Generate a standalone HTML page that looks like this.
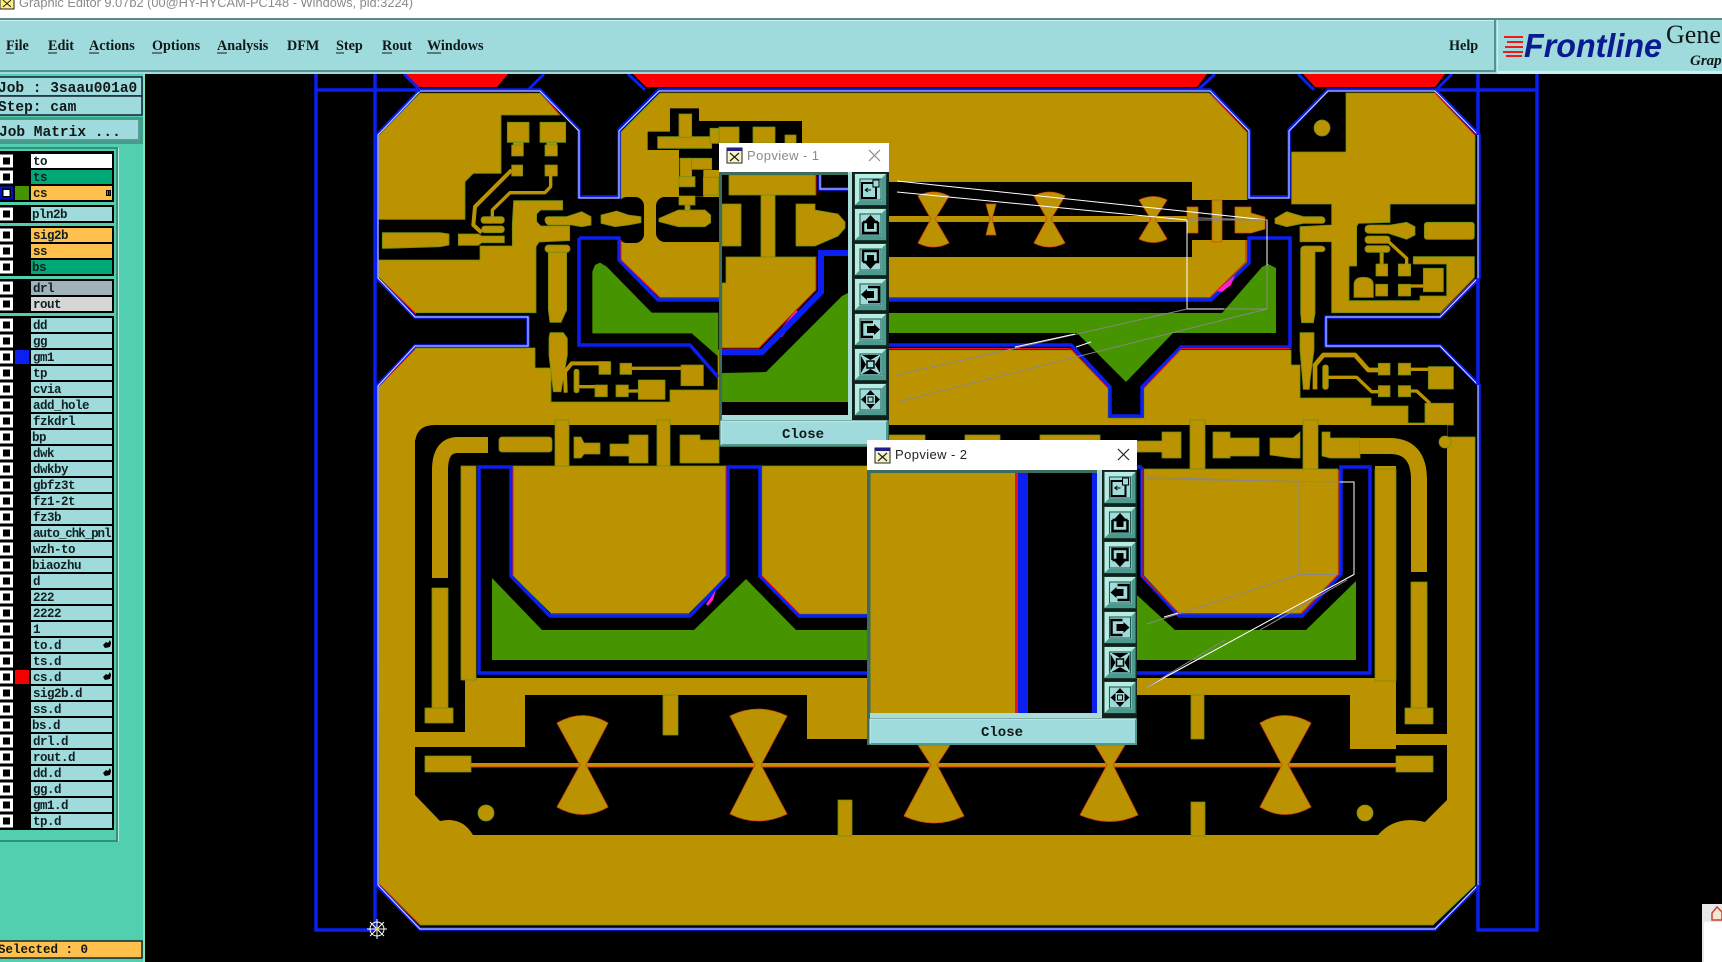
<!DOCTYPE html>
<html><head><meta charset="utf-8"><title>Graphic Editor</title>
<style>
html,body{margin:0;padding:0;background:#000;width:1722px;height:962px;overflow:hidden}
svg{display:block}
.g{fill:#bb9300;stroke:#6f8f10;stroke-width:.8;vector-effect:non-scaling-stroke}
.g *{vector-effect:non-scaling-stroke}
.k{fill:#000}
.gn{fill:#459400}
.tr{fill:none;stroke:#bb9300;stroke-linejoin:round}
.bl{fill:none;stroke:#0a1ff0;stroke-width:3.5;stroke-linejoin:miter}
.rd{fill:none;stroke:#f01010;stroke-width:1}
.m{font:bold 14.2px "Liberation Serif",serif;fill:#101818}
.u{stroke:#101818;stroke-width:1}
.l{font:bold 12.5px "Liberation Mono",monospace;fill:#102020;letter-spacing:-.5px}
.j{font:bold 14.5px "Liberation Mono",monospace;fill:#101818}
.cl{font:bold 14px "Liberation Mono",monospace;fill:#101818;text-anchor:middle}
.w{fill:none;stroke:#fff;stroke-width:1}
.y{fill:none;stroke:#888;stroke-width:1}
</style></head><body>
<svg xmlns="http://www.w3.org/2000/svg" width="1722" height="962" viewBox="0 0 1722 962">
<defs>
<g id="r"><rect x="0" y="-6.5" width="13" height="13" fill="#fff"/><rect x="3" y="-3.5" width="7" height="7" fill="#000"/><rect x="31" y="-7" width="81" height="14" fill="#9fdbdc"/></g>
<g id="h"><path d="M0,4 L3,1 L5,2 L7,-1 L8,2 L7,6 L2,7Z" fill="#000"/></g>
<g id="b"><rect width="33" height="33" fill="#17382e"/><rect x="1" y="1" width="31" height="31" fill="#b8ece0"/><path d="M32,1V32H1L5,28H28V5Z" fill="#4c9a8e"/><rect x="5" y="5" width="23" height="23" fill="#9fdbd8"/><rect x="6" y="6" width="21" height="21" fill="none" stroke="#1f5a50" stroke-width="1"/></g>
<g id="i1"><use href="#b"/><rect x="8" y="10" width="14" height="15" fill="none" stroke="#000" stroke-width="2"/><rect x="19" y="7" width="6" height="7" fill="#9fdbdc" stroke="#000"/><path d="M11,17h6m-6,0l3,-2m-3,2l3,2" stroke="#000" fill="none"/></g>
<g id="i2"><use href="#b"/><path d="M9,14h4M20,14h4M9,14V25H24V14" fill="none" stroke="#000" stroke-width="2.500"/><path d="M16.500,7L22,13H20V21H13V13H11Z" fill="#000"/></g>
<g id="i3"><use href="#b"/><path d="M9,19V8H24V19H20M13,19H9" fill="none" stroke="#000" stroke-width="2.500"/><path d="M16.500,26L22,20H20V12H13V20H11Z" fill="#000"/></g>
<g id="i4"><use href="#b"/><path d="M14,9H25V24H14" fill="none" stroke="#000" stroke-width="2.500"/><path d="M7,16.500L13,11V13H20V20H13V22Z" fill="#000"/></g>
<g id="i5"><use href="#b"/><path d="M19,9H8V24H19" fill="none" stroke="#000" stroke-width="2.500"/><path d="M26,16.500L20,11V13H13V20H20V22Z" fill="#000"/></g>
<g id="i6"><use href="#b"/><rect x="13" y="13" width="7" height="7" fill="none" stroke="#000" stroke-width="1.500"/><path d="M8,7H25L16.500,12ZM8,26H25L16.500,21ZM7,8V25L12,16.500ZM26,8V25L21,16.500Z" fill="#000"/></g>
<g id="i7"><use href="#b"/><rect x="14" y="14" width="5" height="5" fill="none" stroke="#000" stroke-width="1"/><path d="M16.500,7L21,12H12ZM16.500,26L21,21H12ZM7,16.500L12,12V21ZM26,16.500L21,12V21Z" fill="#000"/></g>
</defs>

<rect width="1722" height="962" fill="#000"/>

<!-- PCB top red bands -->
<path d="M404,74H508L497,87H418Z" fill="#fb0000"/>
<path d="M633,74H1207L1197,87H646Z" fill="#fb0000"/>
<path d="M1303,74H1445L1435,87H1315Z" fill="#fb0000"/>
<path d="M528,90L544,74M628,74L645,90M1198,90L1215,74M1298,74L1314,90M1436,90L1452,74M404,74L420,90" stroke="#0a1ff0" stroke-width="3" fill="none"/>

<!-- gold boards -->
<polygon class="g" points="660,93 1209,93 1247,132 1247,262 1210,298 660,298 621,260 621,132"/>
<polygon class="k" points="885,182 1192,182 1192,200 1249,200 1249,240 1192,240 1192,257 885,257"/>
<rect class="k" x="618" y="197" width="26" height="46" rx="9"/>
<rect class="k" x="656" y="197" width="100" height="45" rx="9"/>
<rect class="k" x="697" y="121" width="105" height="40"/>

<polygon class="g" points="378,387 415,348 535,348 535,368 551,368 551,402 670,402 670,390 718,390 718,350 1071,350 1108,388 1108,418 1144,418 1144,388 1181,350 1291,350 1291,365 1300,365 1300,398 1371,398 1371,406 1408,406 1408,423 1447,423 1447,437 1475,437 1475,885 1433,925 420,925 379,885"/>

<!-- Upper-left (crop coordinates) -->
<g transform="translate(375,90) scale(.33333)">
<polygon class="g" points="135,10 495,10 555,75 378,75 378,250 295,250 270,275 270,388 10,388 10,135"/>
<polygon class="g" points="10,510 315,510 315,468 412,468 412,400 416,332 563,332 563,360 497,360 485,372 485,395 497,408 584,408 584,452 492,456 483,470 483,668 120,668 10,560"/>
<g class="g">
<polygon points="22,428 195,428 222,432 222,465 195,470 40,475 22,475"/>
<polygon points="250,432 310,432 320,438 388,438 388,458 320,458 310,466 250,466"/>
<rect x="318" y="380" width="70" height="20" rx="9"/><rect x="320" y="408" width="68" height="20" rx="9"/>
<rect x="410" y="225" width="33" height="33"/><rect x="510" y="225" width="37" height="33"/>
<rect x="397" y="97" width="65" height="60"/><rect x="415" y="157" width="30" height="10"/><rect x="410" y="165" width="35" height="33"/>
<rect x="495" y="97" width="77" height="60"/><rect x="515" y="157" width="30" height="10"/><rect x="510" y="165" width="37" height="33"/>
<path d="M510,390Q510,380 520,380H575L620,365L648,380V405L620,410L590,405H520Q510,400 510,390Z"/>
<polygon points="678,375 725,363 760,375 798,380 798,398 760,405 720,410 678,400"/>
<polygon points="852,385 910,360 990,360 1007,375 1007,398 990,410 910,410 852,395"/>
<rect x="510" y="465" width="75" height="22" rx="10"/>
<polygon points="520,487 575,487 575,660 558,697 525,697 520,660"/>
<polygon points="525,728 565,728 577,745 577,795 558,905 535,905 522,795 522,745"/>
<rect x="597" y="838" width="15" height="70" rx="6"/>
<rect x="672" y="815" width="35" height="38"/><rect x="735" y="820" width="35" height="33"/>
<rect x="918" y="825" width="67" height="62"/><rect x="660" y="885" width="37" height="35"/>
<rect x="723" y="885" width="37" height="35"/><rect x="790" y="870" width="80" height="58"/>
</g>
<path class="tr" stroke-width="12" d="M410,240L300,350L295,405L320,428"/>
<path class="tr" stroke-width="10" d="M527,255V290L510,308H405L352,360V380"/>
<path class="tr" stroke-width="12" d="M700,820H590L570,845L572,908"/>
<path class="tr" stroke-width="10" d="M770,835H918M612,890H660M760,903H790"/>
<!-- cluster -->
<polygon class="k" points="885,55 972,55 972,95 1050,95 1050,240 985,240 985,320 912,320 912,180 818,180 818,125 885,125"/>
<g class="g">
<rect x="848" y="140" width="162" height="35"/><rect x="912" y="72" width="38" height="70"/><rect x="1005" y="115" width="45" height="45"/>
<rect x="915" y="205" width="95" height="33"/><rect x="915" y="205" width="35" height="85"/><rect x="912" y="260" width="48" height="30"/>
<rect x="985" y="262" width="45" height="53"/>
<rect x="912" y="318" width="48" height="27"/><rect x="930" y="345" width="15" height="17"/>
</g>
<polygon class="gn" points="652,545 660,525 675,518 695,530 830,668 1030,668 1030,800 950,730 652,730"/>
</g>
<rect class="g" x="719" y="127" width="20" height="16"/><rect class="g" x="753" y="127" width="22" height="16"/><rect class="g" x="785" y="135" width="11" height="8"/>

<!-- Upper-right -->
<g transform="translate(1180,190) scale(.33333)">
<polygon class="g" points="335,-114 335,0 335,42 455,42 455,105 360,110 360,155 455,155 455,368 780,368 883,262 883,200 700,200 700,222 800,222 800,318 720,318 720,332 507,332 507,228 530,228 530,110 535,100 630,97 630,42 885,42 885,-165 765,-291 498,-291 498,-114"/>
<g class="g">
<path d="M555,118Q555,105 570,105H630L680,97L705,110V135L680,148L625,130H570Q555,130 555,118Z"/>
<rect x="733" y="97" width="150" height="51" rx="8"/>
<rect x="555" y="138" width="75" height="22" rx="10"/><rect x="555" y="167" width="75" height="20" rx="9"/>
<rect x="600" y="187" width="10" height="35"/><rect x="588" y="222" width="35" height="36"/><rect x="655" y="222" width="37" height="36"/>
<path d="M522,322V285Q522,262 550,262Q580,262 580,285V322Z"/>
<rect x="587" y="283" width="36" height="35"/><rect x="655" y="283" width="37" height="35"/><rect x="730" y="235" width="60" height="70"/>
<path d="M285,85L320,65L370,80H425Q435,82 435,91Q435,100 425,100H370L320,110L285,100Z"/>
<path d="M362,180Q362,168 375,168H425Q435,170 435,177Q435,185 425,185H405V370L400,398H365L362,370Z"/>
<polygon points="360,428 402,428 402,480 390,570 388,598 370,598 360,480"/>
<rect x="428" y="525" width="17" height="73" rx="7"/>
<rect x="595" y="520" width="35" height="35"/><rect x="655" y="520" width="37" height="35"/><rect x="745" y="530" width="75" height="67"/>
<rect x="595" y="587" width="35" height="33"/><rect x="655" y="587" width="37" height="33"/><rect x="735" y="640" width="85" height="65"/>
</g>
<path class="tr" stroke-width="10" d="M620,150L680,205V225M445,562H530L575,605H595M692,538H745M692,603H710L750,640M692,288H730"/>
<path class="tr" stroke-width="14" d="M405,598V525L430,495H525L565,540H595"/>
</g>
<ellipse class="g" cx="1322" cy="128" rx="8" ry="8"/>

<!-- row band and frames -->
<path class="k" d="M415,445Q415,425 435,425H1447V466H415Z"/>
<rect class="k" x="415" y="440" width="46" height="240"/><rect class="k" x="415" y="680" width="50" height="52"/>
<rect class="k" x="1396" y="440" width="51" height="294"/>
<rect class="k" x="476" y="466" width="899" height="212"/>
<path class="k" d="M415,747H525V695H807V739H867V695H1350V749H1396V745H1447V800L1425,822Q1395,815 1378,835H473Q462,816 440,821L415,795Z"/>
<g class="g">
<rect x="555" y="420" width="14" height="50"/><rect x="657" y="420" width="13" height="50"/><rect x="1190" y="420" width="15" height="50"/><rect x="1303" y="420" width="15" height="50"/>
<rect x="499" y="437" width="53" height="15" rx="3"/>
<path d="M574,437H581L584,443H600V454H584L581,458H574Z"/>
<path d="M610,444H629V435H648V463H629V456H610Z"/>
<path d="M680,435H700V440H719V463H680Z"/>
<path d="M889,435H925V441H889ZM965,435H1000V441H965ZM1040,435H1100V441H1040Z"/>
<path d="M1134,441H1162V432H1181V458H1162V452H1134Z"/>
<path d="M1213,432H1230V438H1259V456H1230V458H1213Z"/>
<path d="M1270,438H1293L1300,432V458H1293L1270,455Z"/>
<path d="M1322,432H1330V438H1360V458H1330L1322,456Z"/>
<rect x="432" y="588" width="16" height="120"/><rect x="425" y="708" width="28" height="15"/>
<rect x="461" y="466" width="15" height="214"/><rect x="1375" y="469" width="21" height="212"/>
<rect x="1411" y="582" width="16" height="126"/><rect x="1405" y="708" width="28" height="16"/>
<circle cx="1445" cy="442" r="6"/>
<rect x="663" y="695" width="15" height="40"/><rect x="838" y="800" width="14" height="36"/><rect x="1191" y="695" width="13" height="44"/><rect x="1191" y="802" width="14" height="34"/>
<rect x="425" y="756" width="46" height="16"/><rect x="1396" y="756" width="37" height="16"/>
<ellipse cx="486" cy="813" rx="8" ry="8"/><ellipse cx="1365" cy="813" rx="8" ry="8"/>
<polygon points="513,466 726,466 726,576 688,614 552,614 513,576"/>
<polygon points="762,466 1100,466 1100,576 1062,614 799,614 762,576"/>
<polygon points="1144,469 1338,469 1338,574 1300,614 1180,614 1144,576"/>
</g>
<path class="tr" stroke-width="16" d="M488,445H458Q440,445 440,470V578"/>
<path class="tr" stroke-width="16" d="M1360,446H1390Q1419,446 1419,480V572"/>
<rect x="471" y="763" width="925" height="4" fill="#bb9300"/><line x1="471" y1="767" x2="1396" y2="767" stroke="#f03010" stroke-width="1"/>
<g class="g" style="stroke:#d04a10">
<path d="M557,723Q583,708 608,723L586,765L608,807Q583,822 557,807L580,765Z"/>
<path d="M730,716Q758,702 787,716L761,765L787,814Q758,828 730,814L755,765Z"/>
<path d="M904,816Q934,830 964,816L937,765L950,745H918L931,765Z"/>
<path d="M1080,815Q1110,828 1138,815L1113,765L1125,745H1095L1107,765Z"/>
<path d="M1260,723Q1285,708 1311,723L1288,765L1311,807Q1285,822 1260,807L1282,765Z"/>
</g>
<polygon class="gn" points="492,578 542,630 694,630 746,579 796,630 1085,630 1126,585 1175,630 1306,630 1356,581 1356,660 492,660"/>
<polygon class="gn" points="885,313 1222,313 1262,267 1268,264 1276,268 1276,333 1173,333 1126,382 1077,333 885,333"/>

<!-- center strip in black zone -->
<rect x="885" y="216" width="302" height="6" fill="#bb9300"/>
<g class="g" style="stroke:#d04a10">
<path d="M918,196Q933,188 949,196L935,219L949,243Q933,251 918,243L931,219Z"/>
<path d="M986,204H996L992,219L996,235H986L990,219Z"/>
<path d="M1034,196Q1049,188 1065,196L1051,219L1065,243Q1049,251 1034,243L1047,219Z"/>
<path d="M1139,200Q1153,193 1167,200L1155,219L1167,239Q1153,246 1139,239L1151,219Z"/>
<path d="M1187,207H1198V233H1187Z"/>
<rect x="1212" y="200" width="10" height="42"/>
<path d="M1235,207H1251V213L1265,217V229L1251,233H1235Z"/>
</g>

<!-- blue, red lines -->
<path class="bl" d="M579,238V345H690L718,377M579,238H619V260L658,300H1211L1249,263V238H1290V347H1181L1142,387V416H1110V387L1071,345H885"/>
<path class="bl" d="M1142,467V576L1179,616H1302L1341,574V467H1370V673H479V467H511V576L550,616H690L728,576V467H760V576L799,616H1062L1100,576V467H1142"/>
<path class="rd" d="M621,240V260L660,297.500H1210L1246,262V240M1071,348.500H735M1181,348.500H1290M1108,388L1071,349M1144,388L1181,349M513,467V576M726,467V576M762,576L799,613.500M1142,470V576L1179,613.500H1302L1339,574V470M552,613.500H688M380,279L416,314M380,385L415,349M380,885L420,925M1436,94L1475,135M1475,279L1440,314M1211,94L1247,132M542,94L560,115"/>
<polygon points="1217,291 1235,275 1231,285 1222,292" fill="#ff20d0"/>
<polygon points="706,604 716,590 713,600 708,606" fill="#ff20d0"/>

<path d="M420,90H540L579,130V197H619V130L659,90H1210L1249,130V197H1289V130L1328,90H1435L1479,135V278L1440,317H1326V346H1440L1479,385V885L1435,929H420L377,885V386L415,346H528V317H415L377,278V135Z" fill="none" stroke="#0a1ff0" stroke-width="3.500"/>
<path d="M420,91H540L579,131V198H619V131L659,91H1210L1249,131V198H1289V131L1328,91H1435L1478,135V278L1440,317H1326V346H1440L1478,385V885L1435,929H420L378,885V386L415,346H528V317H415L378,278V135Z" fill="none" stroke="#dfe6f5" stroke-width="1"/>
<path d="M316,74V930H375M316,90H420M375,74V930M1478,74V135M1478,278V385M1478,885V930H1537V74M1436,90H1537" fill="none" stroke="#0a1ff0" stroke-width="3.500"/>

<!-- projection lines -->
<path class="w" d="M897,181L1267,220V309H1187V220L897,192"/>
<path class="y" d="M1187,220H1267M1267,265V309H1224M1187,309L897,375M1267,309L897,402M1165,217L1267,220"/>
<path class="w" d="M1015,347L1075,334M1076,347L1091,342"/>
<path class="y" d="M1146,477L1299,482M1146,479L1340,482H1354M1299,482V574.500H1338M1299,574.500L1147,624M1354,574.500L1147,687"/>
<path class="w" d="M1340,482H1354V574.500L1147,687"/>
<path class="y" d="M1347,580L1260,630M1225,640L1147,687"/>
<path class="w" d="M1164,617L1178,613"/>

<!-- crosshair -->
<g stroke="#fff" stroke-width="1" fill="none"><circle cx="377" cy="929" r="7"/><path d="M367,929H387M377,919V939M370,922L384,936M384,922L370,936"/></g><circle cx="377" cy="929" r="1.500" fill="#ffd040"/>

<!-- small window bottom right -->
<rect x="1702" y="904" width="20" height="58" fill="#e8e8ea"/><rect x="1704" y="922" width="18" height="40" fill="#fff"/>
<path d="M1712,920V913L1717,907L1722,912V920Z" fill="#f2e8d8" stroke="#d04030" stroke-width="1.500"/>

<!-- window title -->
<rect x="0" y="0" width="1722" height="18" fill="#fff"/>
<rect x="0" y="-3" width="14" height="12" fill="#ffef80" stroke="#222"/>
<path d="M3,0L11,7M11,0L3,7" stroke="#222"/>
<text x="19" y="7" textLength="394" lengthAdjust="spacingAndGlyphs" style="font:13px 'Liberation Sans',sans-serif;fill:#8a8a8a">Graphic Editor 9.07b2 (00@HY-HYCAM-PC148 - Windows, pid:3224)</text>

<!-- menu bar -->
<rect x="0" y="18" width="1722" height="56" fill="#9fdbdc"/>
<rect x="0" y="18" width="1722" height="2" fill="#5a8a8a"/><rect x="0" y="20" width="1494" height="1" fill="#c8f0ef"/>
<rect x="0" y="70" width="1495" height="2" fill="#5a8f90"/><rect x="1494" y="20" width="2" height="52" fill="#5a8f90"/><rect x="1497" y="20" width="1" height="54" fill="#c8f0ef"/>
<rect x="1498" y="71" width="224" height="3" fill="#c8f0ef"/>
<text class="m" x="6" y="50">File</text><text class="m" x="48" y="50">Edit</text><text class="m" x="89" y="50">Actions</text><text class="m" x="152" y="50">Options</text><text class="m" x="217" y="50">Analysis</text><text class="m" x="287" y="50">DFM</text><text class="m" x="336" y="50">Step</text><text class="m" x="382" y="50">Rout</text><text class="m" x="427" y="50">Windows</text><text class="m" x="1449" y="50">Help</text>
<path class="u" d="M6,53h8M48,53h9M89,53h10M152,53h10M217,53h10M336,53h8M382,53h10M427,53h14"/>
<path d="M1504,37h19M1507,42h16M1505,47h18M1503,52h20M1506,56h16" stroke="#f01818" stroke-width="2"/>
<text x="1524" y="57" textLength="138" lengthAdjust="spacingAndGlyphs" style="font:italic bold 33px 'Liberation Sans',sans-serif;fill:#0a1a90">Frontline</text>
<text x="1666" y="43" style="font:26px 'Liberation Serif',serif;fill:#101818">Gene</text>
<text x="1690" y="65" style="font:italic bold 15px 'Liberation Serif',serif;fill:#101818">Graphic</text>

<!-- left panel -->
<rect x="0" y="74" width="145" height="888" fill="#52cfae"/><rect x="143.500" y="74" width="1" height="888" fill="#b8f0e0"/>
<rect x="-2" y="77" width="144" height="19" fill="#9fdbdc" stroke="#123" stroke-width="1.500"/>
<rect x="-2" y="96" width="144" height="19" fill="#9fdbdc" stroke="#123" stroke-width="1.500"/>
<rect x="-2" y="117" width="145" height="27" fill="#3f9f87"/><rect x="-2" y="120" width="141" height="20" fill="#9fdbdc"/><path d="M139,120V140H-2" fill="none" stroke="#5a9a9a" stroke-width="2"/>
<text class="j" x="-2" y="92">Job : 3saau001a0</text><text class="j" x="-2" y="111">Step: cam</text><text class="j" x="-1" y="136">Job Matrix ...</text>
<rect x="-2" y="148" width="119" height="693" fill="#52cfae" stroke="#2a7a6a" stroke-width="1.500"/><rect x="118" y="148" width="1" height="693" fill="#b8f0e0"/>
<rect x="0" y="151" width="114" height="51" fill="#000"/><rect x="0" y="205" width="114" height="18" fill="#000"/><rect x="0" y="226" width="114" height="50" fill="#000"/><rect x="0" y="279" width="114" height="34" fill="#000"/><rect x="0" y="316" width="114" height="514" fill="#000"/>
<use href="#r" y="161"/><use href="#r" y="177"/><use href="#r" y="193"/><use href="#r" y="214"/><use href="#r" y="235"/><use href="#r" y="251"/><use href="#r" y="267"/><use href="#r" y="288"/><use href="#r" y="304"/>
<use href="#r" y="325"/><use href="#r" y="341"/><use href="#r" y="357"/><use href="#r" y="373"/><use href="#r" y="389"/><use href="#r" y="405"/><use href="#r" y="421"/><use href="#r" y="437"/><use href="#r" y="453"/><use href="#r" y="469"/><use href="#r" y="485"/><use href="#r" y="501"/><use href="#r" y="517"/><use href="#r" y="533"/><use href="#r" y="549"/><use href="#r" y="565"/><use href="#r" y="581"/><use href="#r" y="597"/><use href="#r" y="613"/><use href="#r" y="629"/><use href="#r" y="645"/><use href="#r" y="661"/><use href="#r" y="677"/><use href="#r" y="693"/><use href="#r" y="709"/><use href="#r" y="725"/><use href="#r" y="741"/><use href="#r" y="757"/><use href="#r" y="773"/><use href="#r" y="789"/><use href="#r" y="805"/><use href="#r" y="821"/>
<rect x="31" y="154" width="81" height="14" fill="#fff"/><rect x="31" y="170" width="81" height="14" fill="#00a878"/><rect x="31" y="186" width="81" height="14" fill="#ffc04d"/><rect x="31" y="228" width="81" height="14" fill="#ffc04d"/><rect x="31" y="244" width="81" height="14" fill="#ffc04d"/><rect x="31" y="260" width="81" height="14" fill="#00a878"/><rect x="31" y="281" width="81" height="14" fill="#a0b2ba"/><rect x="31" y="297" width="81" height="14" fill="#d6d6d6"/>
<rect x="0" y="186.500" width="13" height="13" fill="#0010d0"/><rect x="2" y="188.500" width="9" height="9" fill="#000"/><rect x="3.500" y="190" width="6" height="6" fill="#fff"/>
<rect x="15" y="186" width="14" height="14" fill="#459400"/><rect x="15" y="350" width="14" height="14" fill="#0a1ff0"/><rect x="15" y="670" width="14" height="14" fill="#f50000"/>
<rect x="106" y="190" width="5" height="6" fill="#000"/><path d="M107,192h1M109.500,192h.5M107,194h1M109.500,194h.5" stroke="#fff"/>
<use href="#h" x="103" y="641"/><use href="#h" x="103" y="673"/><use href="#h" x="103" y="769"/>
<g class="l">
<text x="33" y="165">to</text><text x="33" y="181">ts</text><text x="33" y="197">cs</text><text x="32" y="218">pln2b</text><text x="33" y="239">sig2b</text><text x="33" y="255">ss</text><text x="32" y="271">bs</text><text x="33" y="292">drl</text><text x="33" y="308">rout</text>
<text x="33" y="329">dd</text><text x="33" y="345">gg</text><text x="33" y="361">gm1</text><text x="33" y="377">tp</text><text x="33" y="393">cvia</text><text x="33" y="409">add_hole</text><text x="33" y="425">fzkdrl</text><text x="32" y="441">bp</text><text x="33" y="457">dwk</text><text x="33" y="473">dwkby</text><text x="33" y="489">gbfz3t</text><text x="33" y="505">fz1-2t</text><text x="33" y="521">fz3b</text><text x="33" y="537" textLength="78" lengthAdjust="spacing">auto_chk_pnl</text><text x="33" y="553">wzh-to</text><text x="32" y="569">biaozhu</text><text x="33" y="585">d</text><text x="33" y="601">222</text><text x="33" y="617">2222</text><text x="33" y="633">1</text>
<text x="33" y="649">to.d</text><text x="33" y="665">ts.d</text><text x="33" y="681">cs.d</text><text x="33" y="697">sig2b.d</text><text x="33" y="713">ss.d</text><text x="32" y="729">bs.d</text><text x="33" y="745">drl.d</text><text x="33" y="761">rout.d</text><text x="33" y="777">dd.d</text><text x="33" y="793">gg.d</text><text x="33" y="809">gm1.d</text><text x="33" y="825">tp.d</text>
</g>
<rect x="-2" y="941" width="144" height="17" fill="#ffc04d" stroke="#222" stroke-width="1.500"/>
<text x="-2" y="953" style="font:bold 12.500px 'Liberation Mono',monospace;fill:#101818">Selected : 0</text>

<!-- Popview 1 -->
<rect x="719" y="143" width="170" height="304" fill="#3d6b5e"/>
<rect x="719" y="143" width="170" height="29" fill="#fff"/>
<rect x="727" y="148" width="15" height="15" fill="#f5f5c8" stroke="#222"/><rect x="727" y="148" width="15" height="3" fill="#20208a"/><path d="M730,153L739,161M739,153L730,161" stroke="#222" stroke-width="1.200"/>
<text x="747" y="160" style="font:13px 'Liberation Sans',sans-serif;fill:#8a8a8a;letter-spacing:.4px">Popview - 1</text>
<path d="M869,150L880,161M880,150L869,161" stroke="#888" stroke-width="1.200"/>
<rect x="848" y="172" width="6" height="248" fill="#a8dcd8"/><rect x="722" y="415" width="130" height="5" fill="#a8dcd8"/>
<rect x="852" y="172" width="37" height="248" fill="#11201a"/>
<svg x="722" y="175" width="126" height="240" viewBox="722 175 126 240">
<rect x="722" y="175" width="126" height="240" fill="#000"/>
<polygon points="848,293 842,296 766,372 722,373 722,402 848,402" fill="#459400"/>
<g class="g">
<rect x="729" y="175" width="87" height="20"/><rect x="761" y="195" width="14" height="62"/><rect x="722" y="204" width="19" height="42"/>
<polygon points="796,204 815,204 815,210 838,214 845,222 845,228 838,236 815,246 796,246"/>
<polygon points="726,257 816,257 816,290 759,348 722,348 722,283 726,283"/>
</g>
<polygon points="796,310 775,336 782,337 800,313" fill="#ff20d0"/>
<path d="M816,175V195M816,257V290L759,348H722" fill="none" stroke="#e01010"/>
<path d="M848,253H821V292L762,352H722" fill="none" stroke="#0a1ff0" stroke-width="6"/>
<path d="M820,175V189H848" fill="none" stroke="#0a1ff0" stroke-width="3.500"/><path d="M820,175V189H848" fill="none" stroke="#dfe6f5" stroke-width="1"/>
</svg>
<use href="#i1" x="854" y="173"/><use href="#i2" x="854" y="208"/><use href="#i3" x="854" y="243"/><use href="#i4" x="854" y="278"/><use href="#i5" x="854" y="313"/><use href="#i6" x="854" y="348"/><use href="#i7" x="854" y="383"/>
<rect x="721" y="421" width="166" height="24" fill="#9fdbdc"/><path d="M887,421V445H721" fill="none" stroke="#4c9a8e" stroke-width="2"/><path d="M721,445V421H887" fill="none" stroke="#c9f2f0" stroke-width="1"/>
<text class="cl" x="803" y="438">Close</text>

<!-- Popview 2 -->
<rect x="867" y="440" width="270" height="305" fill="#3d6b5e"/>
<rect x="867" y="440" width="270" height="30" fill="#fff"/>
<rect x="875" y="448" width="15" height="15" fill="#f5f5c8" stroke="#222"/><rect x="875" y="448" width="15" height="3" fill="#20208a"/><path d="M878,453L887,461M887,453L878,461" stroke="#222" stroke-width="1.200"/>
<text x="895" y="459" style="font:13px 'Liberation Sans',sans-serif;fill:#222;letter-spacing:.4px">Popview - 2</text>
<path d="M1118,449L1129,460M1129,449L1118,460" stroke="#222" stroke-width="1.200"/>
<rect x="870.500" y="473" width="226.500" height="240" fill="#000"/>
<rect x="870.500" y="473" width="144.500" height="240" fill="#bb9300"/>
<rect x="1015" y="473" width="3" height="240" fill="#f01010"/><rect x="1018" y="473" width="10" height="240" fill="#0a1ff0"/><rect x="1092" y="473" width="5" height="240" fill="#0a1ff0"/>
<rect x="1097" y="470" width="6" height="248" fill="#a8dcd8"/><rect x="870" y="713" width="233" height="5" fill="#a8dcd8"/>
<rect x="1102" y="470" width="35" height="248" fill="#11201a"/>
<use href="#i1" x="1103.500" y="471"/><use href="#i2" x="1103.500" y="506"/><use href="#i3" x="1103.500" y="541"/><use href="#i4" x="1103.500" y="576"/><use href="#i5" x="1103.500" y="611"/><use href="#i6" x="1103.500" y="646"/><use href="#i7" x="1103.500" y="681"/>
<rect x="870" y="719" width="266" height="25" fill="#9fdbdc"/><path d="M1136,719V744H870" fill="none" stroke="#4c9a8e" stroke-width="2"/><path d="M870,744V719H1136" fill="none" stroke="#c9f2f0" stroke-width="1"/>
<text class="cl" x="1002" y="736">Close</text>
</svg>
</body></html>
